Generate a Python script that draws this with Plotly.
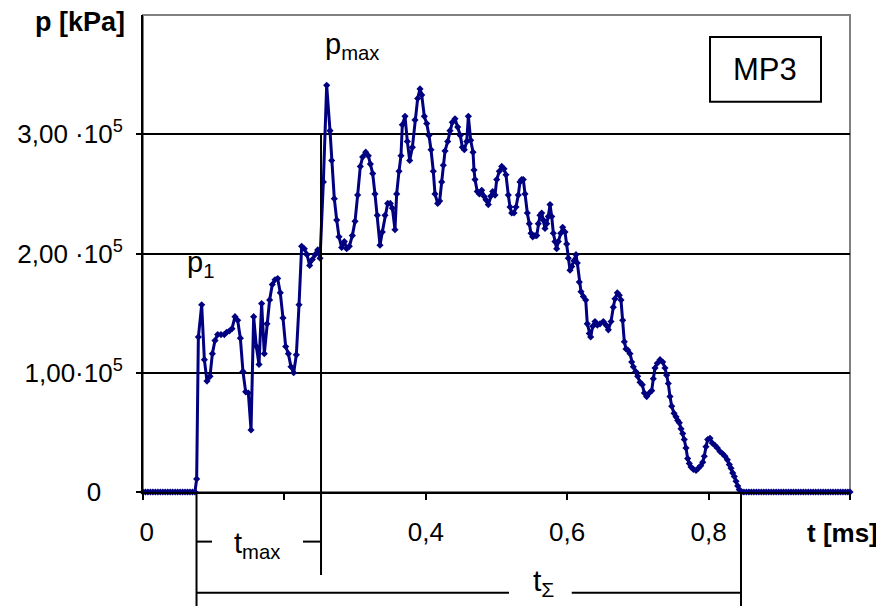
import plotly.graph_objects as go

# pressure trace MP3, time in ms, pressure in units of 1e5 kPa
t_ms = [
    0.000, 0.0035, 0.007, 0.0105, 0.014, 0.0175, 0.021, 0.0245, 0.028, 0.0315,
    0.035, 0.0385, 0.042, 0.0455, 0.049, 0.0525, 0.056, 0.0595, 0.063, 0.0665,
    0.070, 0.0735,
    0.0759, 0.0783, 0.0830, 0.0868, 0.0905, 0.0948, 0.0981, 0.1018, 0.1056, 0.1103,
    0.1150, 0.1183, 0.1221, 0.1259, 0.1301, 0.1339, 0.1377, 0.1414, 0.1452, 0.1490,
    0.1528, 0.1565, 0.1603, 0.1641, 0.1678, 0.1716, 0.1754, 0.1791, 0.1829, 0.1867,
    0.1905, 0.1942, 0.1980, 0.2018, 0.2056, 0.2093, 0.2131, 0.2169, 0.2207, 0.2244,
    0.2282, 0.2320, 0.2357, 0.2395, 0.2433, 0.2471, 0.2504,
    0.2551, 0.2598, 0.2645, 0.2669, 0.2706, 0.2740, 0.2772, 0.2810, 0.2848, 0.2881,
    0.2918, 0.2961, 0.2999, 0.3036, 0.3074, 0.3107, 0.3150, 0.3187, 0.3216, 0.3249,
    0.3281, 0.3314, 0.3352, 0.3385, 0.3423, 0.3461, 0.3498, 0.3527, 0.3564, 0.3588,
    0.3621, 0.3649, 0.3668, 0.3706, 0.3739, 0.3772, 0.3810, 0.3847, 0.3885, 0.3918,
    0.3942, 0.3979, 0.4013, 0.4045, 0.4074, 0.4106, 0.4130, 0.4168, 0.4196, 0.4225,
    0.4248, 0.4272, 0.4310, 0.4342, 0.4375, 0.4413, 0.4451, 0.4488, 0.4517, 0.4545,
    0.4579, 0.4602, 0.4635, 0.4668,
    0.4682, 0.4696, 0.4728, 0.4757, 0.4791, 0.4823, 0.4851, 0.4884, 0.4918, 0.4946,
    0.4979, 0.5003, 0.5040, 0.5074, 0.5106, 0.5134, 0.5167, 0.5191, 0.5215, 0.5248,
    0.5276, 0.5308, 0.5332, 0.5356, 0.5379, 0.5403, 0.5436, 0.5464, 0.5488, 0.5512,
    0.5545, 0.5569, 0.5591, 0.5615, 0.5639, 0.5662, 0.5686, 0.5710, 0.5733, 0.5757,
    0.5781, 0.5804, 0.5827, 0.5851, 0.5874, 0.5908, 0.5936, 0.5969, 0.5993, 0.6016,
    0.6040, 0.6064, 0.6096, 0.6124, 0.6143, 0.6171, 0.6195, 0.6228, 0.6262, 0.6284,
    0.6313, 0.6332, 0.6361, 0.6393, 0.6426, 0.6464,
    0.6511, 0.6549, 0.6582, 0.6620, 0.6652, 0.6676, 0.6709, 0.6737, 0.6761, 0.6785,
    0.6808, 0.6832, 0.6856, 0.6888, 0.6912, 0.6935, 0.6969, 0.6997, 0.7030, 0.7062,
    0.7091, 0.7124, 0.7161, 0.7195, 0.7218, 0.7242, 0.7274, 0.7313, 0.7351, 0.7383,
    0.7407, 0.7430, 0.7454, 0.7478, 0.7511, 0.7539, 0.7563, 0.7586, 0.7610, 0.7634,
    0.7656, 0.7680, 0.7704, 0.7727, 0.7751, 0.7784, 0.7822, 0.7855, 0.7888, 0.7917,
    0.7939, 0.7963, 0.7987, 0.8020, 0.8052, 0.8091, 0.8123, 0.8161, 0.8199, 0.8232,
    0.8265, 0.8293, 0.8317, 0.8341, 0.8364, 0.8388, 0.8412, 0.8434, 0.8468,
    0.850, 0.8535, 0.857, 0.8605, 0.864, 0.8675, 0.871, 0.8745, 0.878, 0.8815,
    0.885, 0.8885, 0.892, 0.8955, 0.899, 0.9025, 0.906, 0.9095, 0.913, 0.9165,
    0.920, 0.9235, 0.927, 0.9305, 0.934, 0.9375, 0.941, 0.9445, 0.948, 0.9515,
    0.955, 0.9585, 0.962, 0.9655, 0.969, 0.9725, 0.976, 0.9795, 0.983, 0.9865,
    0.990, 0.9935, 0.997, 1.000,
]

p_e5 = [
    0, 0, 0, 0, 0, 0, 0, 0, 0, 0,
    0, 0, 0, 0, 0, 0, 0, 0, 0, 0,
    0, 0,
    0.11, 1.30, 1.57, 1.11, 0.93, 0.97, 1.16, 1.27, 1.32, 1.32,
    1.32, 1.34, 1.35, 1.37, 1.47, 1.44, 1.29, 1.01, 0.84, 0.83,
    0.52, 1.47, 1.22, 1.07, 1.58, 1.16, 1.41, 1.61, 1.74, 1.78,
    1.79, 1.67, 1.46, 1.22, 1.16, 1.05, 1.00, 1.15, 1.57, 2.06,
    2.04, 1.99, 1.90, 1.95, 1.99, 2.03, 1.96,
    2.60, 3.41, 3.03, 2.78, 2.46, 2.28, 2.14, 2.05, 2.10, 2.04,
    2.06, 2.15, 2.27, 2.49, 2.73, 2.81, 2.85, 2.82, 2.75, 2.67,
    2.50, 2.32, 2.07, 2.18, 2.32, 2.42, 2.42, 2.38, 2.20, 2.50,
    2.69, 2.82, 3.08, 3.15, 2.94, 2.78, 2.89, 3.12, 3.30, 3.38,
    3.33, 3.15, 3.09, 2.99, 2.87, 2.69, 2.50, 2.42, 2.44, 2.60,
    2.74, 2.86, 2.94, 3.03, 3.10, 3.13, 3.06, 2.99, 2.89, 2.87,
    2.94, 3.15, 2.95, 2.85,
    2.70, 2.62, 2.52, 2.50, 2.53, 2.48, 2.45, 2.41, 2.48, 2.52,
    2.49, 2.62, 2.69, 2.73, 2.71, 2.66, 2.49, 2.39, 2.34, 2.34,
    2.39, 2.49, 2.60, 2.62, 2.62, 2.50, 2.34, 2.25, 2.17, 2.14,
    2.15, 2.15, 2.25, 2.32, 2.34, 2.28, 2.21, 2.25, 2.31, 2.41,
    2.31, 2.17, 2.10, 2.04, 2.10, 2.17, 2.22, 2.18, 2.08, 1.96,
    1.86, 1.89, 1.94, 1.99, 1.92, 1.76, 1.68, 1.64, 1.61, 1.41,
    1.33, 1.30, 1.39, 1.43, 1.40, 1.41,
    1.43, 1.40, 1.36, 1.43, 1.55, 1.62, 1.67, 1.65, 1.61, 1.44,
    1.26, 1.20, 1.19, 1.16, 1.09, 1.05, 1.01, 0.97, 0.92, 0.90,
    0.83, 0.80, 0.83, 0.85, 0.95, 1.04, 1.08, 1.11, 1.09, 1.04,
    0.98, 0.91, 0.80, 0.72, 0.66, 0.63, 0.60, 0.58, 0.53, 0.49,
    0.44, 0.37, 0.28, 0.24, 0.21, 0.19, 0.18, 0.20, 0.22, 0.25,
    0.30, 0.38, 0.44, 0.45, 0.41, 0.39, 0.37, 0.34, 0.32, 0.30,
    0.27, 0.23, 0.20, 0.16, 0.13, 0.09, 0.05, 0.02, 0.00,
    0, 0, 0, 0, 0, 0, 0, 0, 0, 0,
    0, 0, 0, 0, 0, 0, 0, 0, 0, 0,
    0, 0, 0, 0, 0, 0, 0, 0, 0, 0,
    0, 0, 0, 0, 0, 0, 0, 0, 0, 0,
    0, 0, 0, 0,
]

x_tickvals = [0, 0.4, 0.6, 0.8]
x_ticktext = ["\u00a00", "0,4", "0,6", "0,8"]
x_minor_ticks = [0.2, 1.0]
y_tickvals = [0, 1, 2, 3]
y_ticktext = ["0\u00a0\u00a0\u00a0", "1,00·10<sup>5</sup>", "2,00 ·10<sup>5</sup>",
              "3,00 ·10<sup>5</sup>"]

# event times used for the t_max / t_sum brackets
t_start = 0.0757
t_peak = 0.2518
t_end = 0.8458

FONT = "Liberation Sans, Arial, sans-serif"
BLUE = "#000080"

fig = go.Figure()
fig.add_trace(go.Scatter(
    x=t_ms, y=p_e5, mode="lines+markers",
    line=dict(color=BLUE, width=3),
    marker=dict(symbol="diamond", size=5.5, color=BLUE),
    cliponaxis=False, showlegend=False,
))

black = dict(color="black", width=2)
shapes = [
    # plot area frame (grey)
    dict(type="rect", xref="paper", yref="paper", x0=0, x1=1, y0=0, y1=1,
         line=dict(color="#808080", width=2), layer="below"),
    # MP3 box
    dict(type="rect", xref="paper", yref="paper", x0=0.802, x1=0.959, y0=0.818, y1=0.954,
         line=black, fillcolor="white"),
    # start and end verticals
    dict(type="line", xref="x", yref="paper", x0=t_start, x1=t_start, y0=0, y1=-0.24, line=black),
    dict(type="line", xref="x", yref="paper", x0=t_end, x1=t_end, y0=0, y1=-0.24, line=black),
    # t_max vertical from peak level down
    dict(type="line", xref="x", yref="paper", x0=t_peak, x1=t_peak, y0=0.75, y1=-0.174, line=black),
    # t_max bracket
    dict(type="line", xref="x", yref="paper", x0=t_start, x1=0.0976, y0=-0.104, y1=-0.104, line=black),
    dict(type="line", xref="x", yref="paper", x0=0.2263, x1=t_peak, y0=-0.104, y1=-0.104, line=black),
    # t_sum bracket
    dict(type="line", xref="x", yref="paper", x0=t_start, x1=0.5177, y0=-0.211, y1=-0.211, line=black),
    dict(type="line", xref="x", yref="paper", x0=0.6064, x1=t_end, y0=-0.211, y1=-0.211, line=black),
]

annotations = [
    dict(text="<b>p [kPa]</b>", x=-0.023, y=0.985, xanchor="right", yanchor="middle",
         font=dict(size=27)),
    dict(text="<b>t [ms]</b>", x=0.99, y=-0.086, xanchor="center", yanchor="middle",
         font=dict(size=26)),
    dict(text="MP3", x=0.880, y=0.885, xanchor="center", yanchor="middle",
         font=dict(size=31)),
    dict(text="p<sub>max</sub>", x=0.255, y=0.936, xanchor="left", yanchor="middle",
         font=dict(size=29)),
    dict(text="p<sub>1</sub>", x=0.059, y=0.477, xanchor="left", yanchor="middle",
         font=dict(size=29)),
    dict(text="t<sub>max</sub>", x=0.161, y=-0.111, xanchor="center", yanchor="middle",
         font=dict(size=29)),
    dict(text="t<sub>Σ</sub>", x=0.567, y=-0.19, xanchor="center", yanchor="middle",
         font=dict(size=30)),
]
for a in annotations:
    a.update(xref="paper", yref="paper", showarrow=False)
    a["font"].update(family=FONT, color="black")

# page body adds an 8px offset, so the figure is 8px smaller than the window
fig.update_layout(
    width=876, height=598,
    margin=dict(l=135, r=34, t=7, b=114),
    paper_bgcolor="white", plot_bgcolor="white",
    font=dict(family=FONT, color="black"),
    shapes=shapes, annotations=annotations,
    xaxis=dict(range=[0, 1.0], tickvals=x_tickvals, ticktext=x_ticktext,
               showgrid=False, zeroline=False, showline=True, linecolor="black",
               linewidth=2, ticks="outside", ticklen=6, tickwidth=1.5, tickcolor="black",
               minor=dict(tickvals=x_minor_ticks, ticks="outside", ticklen=6,
                          tickwidth=1.5, tickcolor="black", showgrid=False),
               tickfont=dict(size=26), ticklabelstandoff=10),
    yaxis=dict(range=[0, 4], tickvals=y_tickvals, ticktext=y_ticktext,
               showgrid=True, gridcolor="black", gridwidth=1.5, zeroline=False,
               showline=True, linecolor="black", linewidth=2, ticks="outside",
               ticklen=5, tickwidth=1.5, tickcolor="black",
               tickfont=dict(size=26), ticklabelstandoff=8),
)

fig.write_html("out.html")
